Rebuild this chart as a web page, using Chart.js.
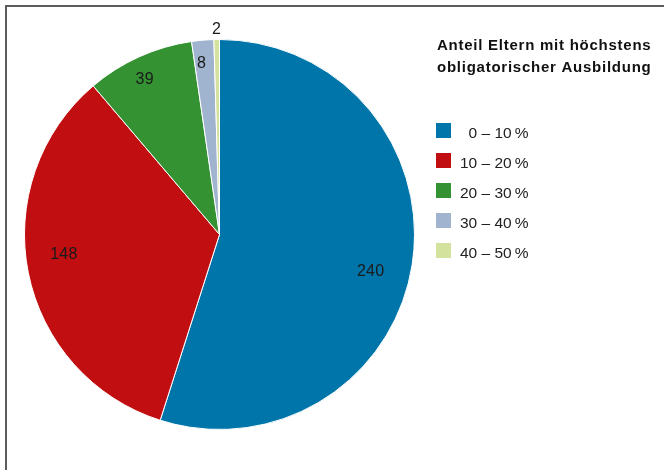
<!DOCTYPE html>
<html>
<head>
<meta charset="utf-8">
<script src="https://cdn.jsdelivr.net/npm/chart.js@4/dist/chart.umd.min.js"></script>
<style>
  html, body { margin: 0; padding: 0; background: #fff; }
  #wrap { position: relative; width: 664px; height: 470px; }
</style>
</head>
<body>
<div id="wrap"><canvas id="c" width="664" height="470"></canvas></div>
<script>
// Schools by share of parents with at most compulsory education
const categories = ['\u20070 \u2013 10\u2009%', '10 \u2013 20\u2009%', '20 \u2013 30\u2009%', '30 \u2013 40\u2009%', '40 \u2013 50\u2009%'];
const counts = [240, 148, 39, 8, 2];
const sliceColors = ['#0075a9', '#c10e11', '#349232', '#a0b4cf', '#d3e29d'];
const titleLines = ['Anteil Eltern mit höchstens', 'obligatorischer Ausbildung'];

const FONT = '"Liberation Sans", Arial, Helvetica, sans-serif';

// frame, value labels and side legend
const decorations = {
  id: 'decorations',
  beforeDraw(chart) {
    const ctx = chart.ctx;
    ctx.save();
    ctx.fillStyle = '#5c5c5c';
    ctx.fillRect(5, 5, 2, chart.height - 5);
    ctx.fillRect(5, 5, chart.width - 5, 2);
    ctx.restore();
  },
  afterDraw(chart, args, opts) {
    const ctx = chart.ctx;
    const meta = chart.getDatasetMeta(0);
    const data = chart.data.datasets[0].data;
    ctx.save();
    // value labels
    ctx.font = '16px ' + FONT;
    ctx.fillStyle = '#1a1a1a';
    ctx.textAlign = 'center';
    ctx.textBaseline = 'middle';
    if ('letterSpacing' in ctx) ctx.letterSpacing = '0.3px';
    meta.data.forEach((arc, i) => {
      const p = arc.getProps(['x', 'y', 'startAngle', 'endAngle', 'outerRadius'], true);
      const mid = (p.startAngle + p.endAngle) / 2;
      const pl = opts.placement[i];
      const r = p.outerRadius * pl.f;
      ctx.fillText(String(data[i]), p.x + Math.cos(mid) * r + pl.dx, p.y + Math.sin(mid) * r + pl.dy);
    });
    // legend title
    ctx.textAlign = 'left';
    ctx.textBaseline = 'alphabetic';
    ctx.font = 'bold 15px ' + FONT;
    ctx.fillStyle = '#111';
    if ('letterSpacing' in ctx) ctx.letterSpacing = '0.75px';
    titleLines.forEach((t, k) => ctx.fillText(t, 437, 50 + k * 22));
    if ('letterSpacing' in ctx) ctx.letterSpacing = '0px';
    // legend entries
    ctx.font = '15.5px ' + FONT;
    chart.data.labels.forEach((lab, i) => {
      const top = 123 + i * 30;
      ctx.fillStyle = sliceColors[i];
      ctx.fillRect(436, top, 15, 15);
      ctx.fillStyle = '#222';
      ctx.fillText(lab, 460, top + 15);
    });
    ctx.restore();
  }
};

new Chart(document.getElementById('c'), {
  type: 'pie',
  data: {
    labels: categories,
    datasets: [{
      data: counts,
      backgroundColor: sliceColors,
      borderColor: '#ffffff',
      borderWidth: 1
    }]
  },
  options: {
    responsive: false,
    animation: false,
    radius: 195,
    layout: { padding: { left: 24, right: 249, top: 39, bottom: 40 } },
    plugins: {
      legend: { display: false },
      tooltip: { enabled: false },
      decorations: {
        placement: [
          { f: 0.79, dx: -1, dy: 13 },
          { f: 0.79, dx: -4.5, dy: -10 },
          { f: 0.87, dx: -5, dy: 0 },
          { f: 0.88, dx: -3, dy: 0 },
          { f: 1.05, dx: 0, dy: 0 }
        ]
      }
    }
  },
  plugins: [decorations]
});
</script>
</body>
</html>
